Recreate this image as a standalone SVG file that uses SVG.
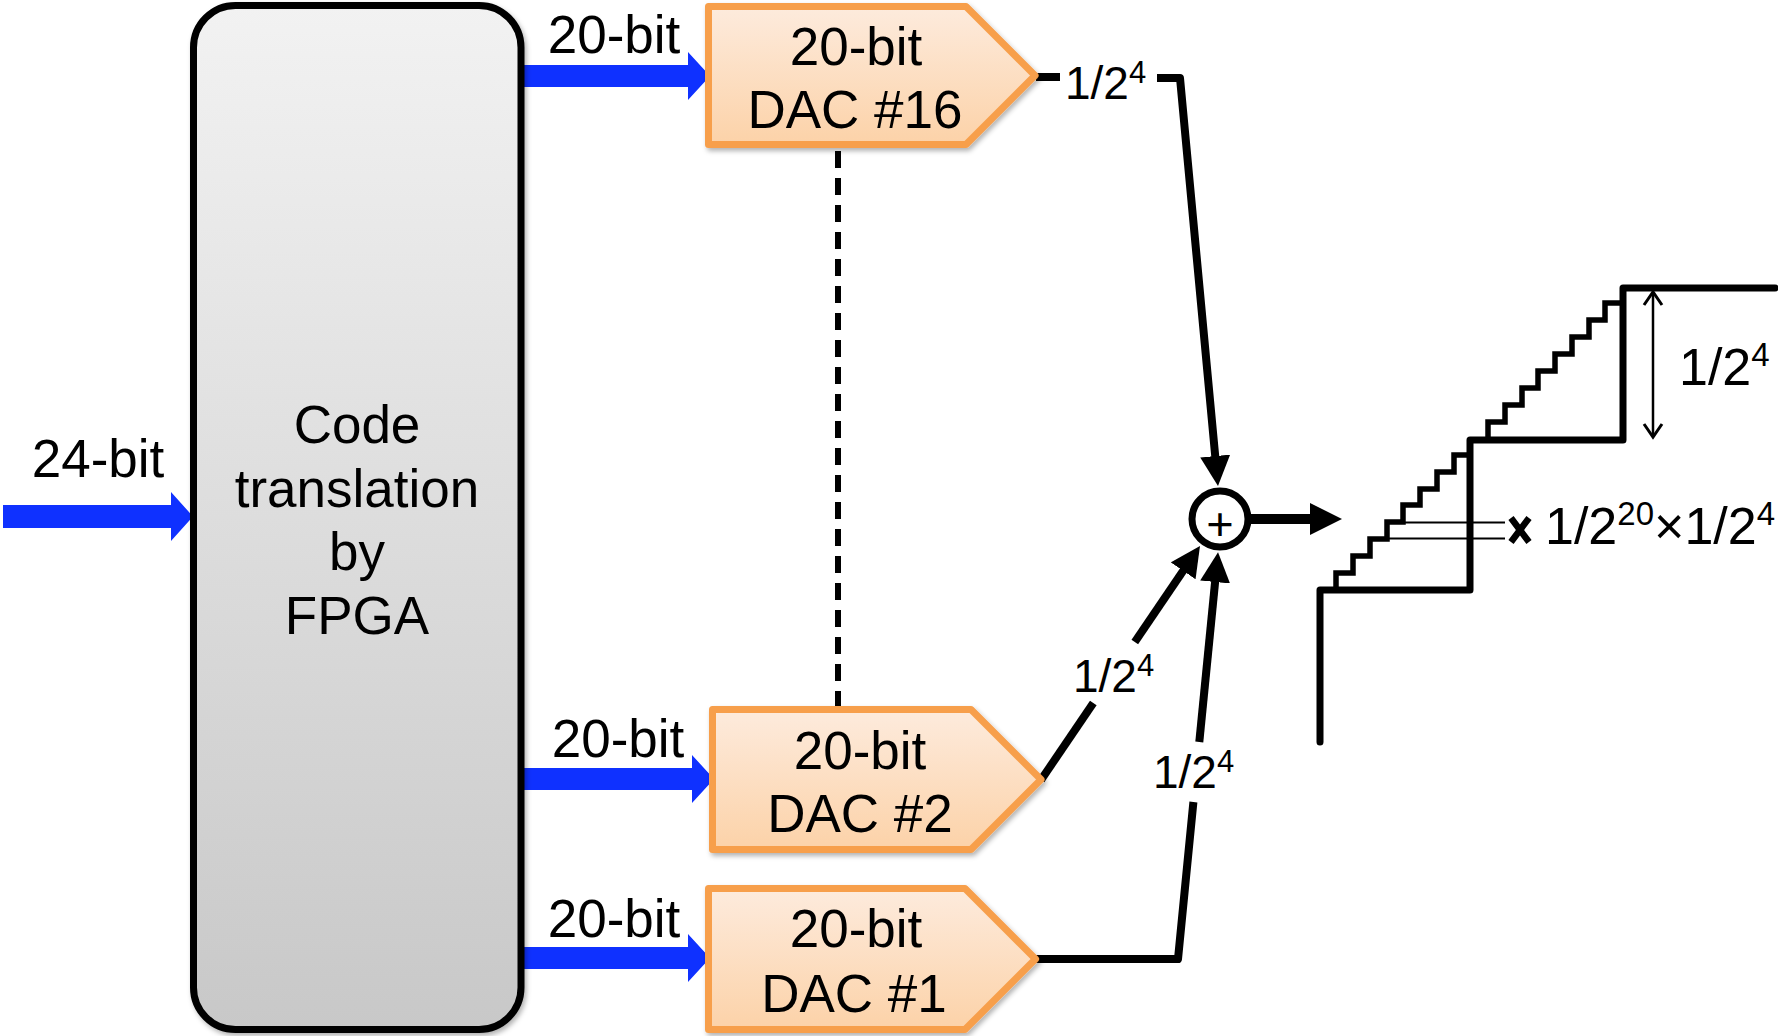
<svg xmlns="http://www.w3.org/2000/svg" width="1778" height="1036" viewBox="0 0 1778 1036">
  <style>
    text { font-family: "Liberation Sans", Arial, sans-serif; fill: #000; }
    .big { font-size: 53px; text-anchor: middle; }
    .lbl { font-size: 46px; }
    .sl { font-size: 52px; }
    .dac { stroke: #f79f4c; stroke-width: 7; stroke-linejoin: round; fill: url(#gDac); filter: url(#sh); }
    .blue { fill: #0f31ff; }
    .wire { fill: none; stroke: #000; stroke-width: 8; stroke-linejoin: round; }
    .stair { fill: none; stroke: #000; stroke-width: 7; stroke-linejoin: round; stroke-linecap: round; }
    .step { fill: none; stroke: #000; stroke-width: 5.5; stroke-linejoin: miter; }
    .thin { fill: none; stroke: #000; stroke-width: 2; }
  </style>
  <defs>
    <linearGradient id="gDac" x1="0" y1="0" x2="0" y2="1">
      <stop offset="0" stop-color="#fdebdd"/>
      <stop offset="1" stop-color="#fcd2a8"/>
    </linearGradient>
    <linearGradient id="gFpga" x1="0" y1="0" x2="0" y2="1">
      <stop offset="0" stop-color="#f2f2f2"/>
      <stop offset="1" stop-color="#c8c8c8"/>
    </linearGradient>
    <filter id="sh" x="-5%" y="-5%" width="115%" height="120%">
      <feDropShadow dx="2" dy="3" stdDeviation="2.5" flood-color="#000" flood-opacity="0.3"/>
    </filter>
    <marker id="ah" viewBox="0 0 30 30" refX="1" refY="15" markerWidth="30" markerHeight="30" markerUnits="userSpaceOnUse" orient="auto">
      <path d="M0,0 L30,15 L0,30 Z" fill="#000"/>
    </marker>
    <marker id="ah2" viewBox="0 0 32 32" refX="1" refY="16" markerWidth="32" markerHeight="32" markerUnits="userSpaceOnUse" orient="auto">
      <path d="M0,0 L32,16 L0,32 Z" fill="#000"/>
    </marker>
  </defs>
  <rect width="1778" height="1036" fill="#fff"/>

  <g id="connectors">
    <!-- blue bus arrows -->
    <path class="blue" d="M3,505 H171 V492 L193,516.5 L171,541 V528 H3 Z"/>
    <path class="blue" d="M519,65 H688 V52 L710,76 L688,100 V87 H519 Z"/>
    <path class="blue" d="M524,768 H692 V755 L714,779 L692,803 V790 H524 Z"/>
    <path class="blue" d="M524,947 H688 V934 L710,958 L688,982 V969 H524 Z"/>
    <!-- dashed link between DACs -->
    <path d="M838,151 V706" fill="none" stroke="#000" stroke-width="6" stroke-dasharray="17 10"/>
    <!-- DAC outputs to summer -->
    <path class="wire" d="M1036,77 H1060"/>
    <path class="wire" d="M1157,78 H1180 L1215.3,457" marker-end="url(#ah)"/>
    <path class="wire" d="M1041,780 L1093.3,703"/>
    <path class="wire" d="M1134.8,642 L1183.7,570" marker-end="url(#ah)"/>
    <path class="wire" d="M1036,959 H1178 L1193.4,802"/>
    <path class="wire" d="M1199.3,742 L1215.2,581" marker-end="url(#ah)"/>
    <!-- summer output -->
    <path d="M1251,519 H1311" fill="none" stroke="#000" stroke-width="10" marker-end="url(#ah2)"/>
    <!-- labels -->
    <text class="big" x="98" y="477">24-bit</text>
    <text class="big" x="614" y="53">20-bit</text>
    <text class="big" x="618" y="757">20-bit</text>
    <text class="big" x="614" y="937">20-bit</text>
    <text class="lbl" x="1065" y="99">1/2<tspan dy="-16" font-size="31">4</tspan></text>
    <text class="lbl" x="1073" y="692">1/2<tspan dy="-16" font-size="31">4</tspan></text>
    <text class="lbl" x="1153" y="788">1/2<tspan dy="-16" font-size="31">4</tspan></text>
  </g>

  <g id="fpga">
    <rect x="193.5" y="5.5" width="327.5" height="1024" rx="42" ry="42" fill="url(#gFpga)" stroke="#000" stroke-width="7" filter="url(#sh)"/>
    <text class="big" x="357" y="443">Code</text>
    <text class="big" x="357" y="507">translation</text>
    <text class="big" x="357" y="570">by</text>
    <text class="big" x="357" y="634">FPGA</text>
  </g>

  <g id="dac16">
    <path class="dac" d="M708.5,6.5 H966 L1035,75.5 L966,144.5 H708.5 Z"/>
    <text class="big" x="856" y="65">20-bit</text>
    <text class="big" x="855" y="128">DAC #16</text>
  </g>

  <g id="dac2">
    <path class="dac" d="M712.5,709.5 H971 L1041,779.5 L971,849.5 H712.5 Z"/>
    <text class="big" x="860" y="769">20-bit</text>
    <text class="big" x="860" y="832">DAC #2</text>
  </g>

  <g id="dac1">
    <path class="dac" d="M708.5,888.5 H965 L1035.5,959 L965,1029.5 H708.5 Z"/>
    <text class="big" x="856" y="947">20-bit</text>
    <text class="big" x="854" y="1012">DAC #1</text>
  </g>

  <g id="summer">
    <circle cx="1220" cy="519" r="28" fill="#fff" stroke="#000" stroke-width="7"/>
    <text x="1220" y="540" font-size="47" text-anchor="middle">+</text>
  </g>

  <g id="output-waveform">
    <path class="step" d="M1336,590 V573 H1353 V556 H1370 V539 H1387 V522 H1403 V505 H1420 V489 H1437 V472 H1454 V455 H1470"/>
    <path class="step" d="M1488,440 V422 H1505 V405 H1522 V388 H1538 V371 H1555 V354 H1572 V337 H1589 V320 H1605 V303 H1623"/>
    <path class="stair" d="M1320,742 V590 H1470 V440 H1623 V288 H1775"/>
    <path class="thin" d="M1403,522.5 H1505 M1387,538.5 H1505"/>
    <path d="M1511,518 L1529,542 M1529,518 L1511,542" stroke="#000" stroke-width="6.5" fill="none"/>
    <path d="M1653,292 V437" fill="none" stroke="#000" stroke-width="2.5"/>
    <path d="M1644,305 L1653,292 L1662,305 M1644,424 L1653,437 L1662,424" fill="none" stroke="#000" stroke-width="3"/>
    <text class="sl" x="1679" y="385">1/2<tspan dy="-19" font-size="33">4</tspan></text>
    <text class="sl" x="1545" y="544">1/2<tspan dy="-19" font-size="33">20</tspan><tspan dy="19">×1/2</tspan><tspan dy="-19" font-size="33">4</tspan></text>
  </g>
</svg>
